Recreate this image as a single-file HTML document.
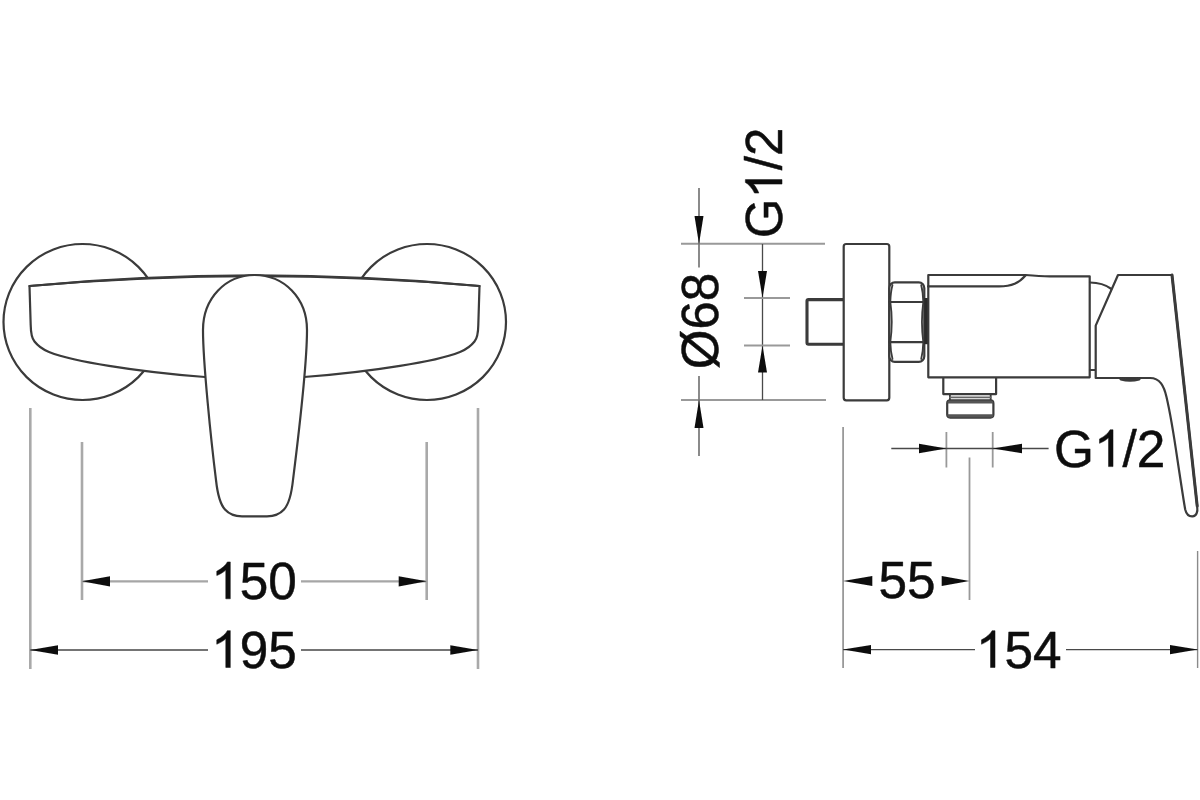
<!DOCTYPE html>
<html><head><meta charset="utf-8">
<style>
html,body{margin:0;padding:0;background:#fff;}
body{width:1200px;height:800px;overflow:hidden;}
svg{display:block;position:absolute;left:0;top:0;}
text{font-family:"Liberation Sans",sans-serif;fill:#111;stroke:#111;stroke-width:0.5px;stroke-linejoin:round;}
.g{fill:#111;stroke:#111;stroke-width:19.961013645224174;stroke-linejoin:round;}
.o{fill:none;stroke:#3a3a3a;stroke-width:2.2;stroke-linecap:round;stroke-linejoin:round;}
.of{fill:#fff;stroke:#3a3a3a;stroke-width:2.2;stroke-linecap:round;stroke-linejoin:round;}
.t{fill:none;stroke:#999;stroke-width:1.8;}
.tl{fill:none;stroke:#a9a9a9;stroke-width:2.6;}
.dv{fill:none;stroke:#777;stroke-width:1.7;}
.th{fill:none;stroke:#999;stroke-width:2.1;}
.t2{fill:none;stroke:#8a8a8a;stroke-width:1.4;}
.dl{fill:none;stroke:#a6a6a6;stroke-width:2.3;}
.d{fill:none;stroke:#484848;stroke-width:1.3;}
.a{fill:#111;stroke:none;}
</style></head>
<body>
<svg width="1200" height="800" viewBox="0 0 1200 800">
<defs><filter id="bl" x="0" y="0" width="1200" height="800" filterUnits="userSpaceOnUse"><feGaussianBlur stdDeviation="0.6"/></filter></defs>
<rect width="1200" height="800" fill="#fff"/>
<g filter="url(#bl)">

<!-- LEFT VIEW -->
<g id="left">
<ellipse class="o" cx="82.5" cy="322" rx="79" ry="78"/>
<ellipse class="o" cx="427" cy="322" rx="79" ry="78"/>
<!-- body -->
<path class="of" d="M29.5,286 Q254.5,266.5 479.5,286 L478.3,325 C478.2,332 477.5,338 474.5,341.5 C471,346 466,349.5 460,352 C446,357.5 420,362.8 400,365.8 C368,371 336,374.5 304,377 L205,377 C173,374.5 141,371 109,365.8 C89,362.8 63,357.5 49,352 C43,349.5 38,346 34.5,341.5 C31.5,338 30.8,332 30.7,325 Z"/>
<path class="o" style="stroke-width:2.2" d="M29.5,286 Q254.5,264.8 479.5,286"/>
<!-- handle -->
<path class="of" d="M254.5,275 C226,275 203,298 203,330 C203,362 211,440 216,480 C217.5,494 220,504 225,509.5 C229,514 234,516.2 242,516.3 L267,516.3 C275,516.2 280,514 284,509.5 C289,504 291.5,494 293,480 C298,440 307,362 307,330 C307,298 284,275 254.5,275 Z"/>
<!-- extension lines -->
<path class="tl" d="M30.3,408 V669 M478,408 V669 M82,442 V600 M426.7,442 V600"/>
<!-- dim 150 -->
<path class="dl" d="M82,581.3 H208 M301,581.3 H426.7"/>
<path class="a" d="M82,581.3 L110,576.2 L110,586.4 Z M426.7,581.3 L398.7,576.2 L398.7,586.4 Z"/>
<g transform="translate(254,598.8)"><path class="g" transform="translate(-42.80,0) scale(0.02505,-0.02505)" d="M763,0 H583 V1147 Q518,1085 412.5,1023 Q307,961 223,930 V1104 Q374,1175 487,1276 Q600,1377 647,1472 H763 Z"/><text x="-14.27" y="0" font-size="51.3">5</text><text x="14.27" y="0" font-size="51.3">0</text></g>
<!-- dim 195 -->
<path class="d" d="M30.3,650 H208 M301,650 H478"/>
<path class="a" d="M30.3,650 L58,645.3 L58,654.7 Z M478,650 L450.3,645.3 L450.3,654.7 Z"/>
<g transform="translate(254,667.5)"><path class="g" transform="translate(-42.80,0) scale(0.02505,-0.02505)" d="M763,0 H583 V1147 Q518,1085 412.5,1023 Q307,961 223,930 V1104 Q374,1175 487,1276 Q600,1377 647,1472 H763 Z"/><text x="-14.27" y="0" font-size="51.3">9</text><text x="14.27" y="0" font-size="51.3">5</text></g>
</g>

<!-- RIGHT VIEW -->
<g id="right">
<!-- ext lines -->
<path class="th" d="M681,243.8 H825 M681,400 H826"/>
<!-- dia 68 dim -->
<path class="dv" d="M699,188 V267.5 M699,376 V456"/>
<path class="a" d="M699,244 L694.5,216 L703.5,216 Z M699,400 L694.5,428 L703.5,428 Z"/>
<g transform="translate(718,321) rotate(-90)"><text x="-48.20" y="0" font-size="51">Ø</text><text x="-8.53" y="0" font-size="51">6</text><text x="19.83" y="0" font-size="51">8</text></g>
<!-- G1/2 vertical dim -->
<path class="d" d="M762.5,244 V400"/>
<path class="t" d="M744,298 H790 M744,345.5 H790"/>
<path class="a" d="M762.5,298 L758,271 L767,271 Z M762.5,345.5 L758,372.5 L767,372.5 Z"/>
<g transform="translate(782,183) rotate(-90)"><text x="-55.28" y="0" font-size="51">G</text><path class="g" transform="translate(-15.61,0) scale(0.02490,-0.02490)" d="M763,0 H583 V1147 Q518,1085 412.5,1023 Q307,961 223,930 V1104 Q374,1175 487,1276 Q600,1377 647,1472 H763 Z"/><text x="12.75" y="0" font-size="51">/</text><text x="26.92" y="0" font-size="51">2</text></g>

<!-- stub -->
<path class="o" style="stroke-width:3.1" d="M844,299.6 H808.5 Q807,299.6 807,301 V342.8 Q807,344.2 808.5,344.2 H844"/>
<!-- flange -->
<rect class="of" x="843.7" y="244" width="45.6" height="156.3" rx="2.5"/>
<!-- nut -->
<rect class="of" x="889.3" y="282.4" width="35" height="79.4" rx="5.5"/>
<path class="o" d="M889.3,302 H924.3 M889.3,342.2 H924.3"/>
<path class="o" style="stroke-width:1.8" d="M890.3,302 Q893.2,322 890.3,342.2 M923.3,302 Q920.6,322 923.3,342.2 M890.3,302 Q890.6,292 892.5,285 M923.3,302 Q923,292 921.2,285 M890.3,342.2 Q890.6,352 892.5,359 M923.3,342.2 Q923,352 921.2,359"/>
<rect x="924.3" y="298" width="4.4" height="46.2" fill="#2a2a2a"/>
<!-- outlet -->
<path class="of" d="M943.3,377 V394.1 H996.1 V377"/>
<path class="o" style="stroke-width:1.8" d="M949.9,394.1 V400 M990.7,394.1 V400"/>
<path class="o" style="stroke:#666;stroke-width:1.6" d="M950,397.4 H990.6"/>
<rect class="of" x="947.2" y="400.4" width="46.2" height="17.2" rx="3"/>
<path d="M947.4,403.4 V402.8 Q947.4,400.4 950,400.4 H990.6 Q993.2,400.4 993.2,402.8 V403.4 Z" fill="#555"/>
<path d="M947.4,414.2 V415.2 Q947.4,417.6 950,417.6 H990.6 Q993.2,417.6 993.2,415.2 V414.2 Z" fill="#555"/>
<!-- body -->
<path class="of" d="M928.3,275 H1025.5 Q1040,276.3 1050,276.3 H1089.7 V377.3 H928.3 Z"/>
<path class="o" d="M928,286.4 H999 C1012,286.4 1019,283 1025.5,275.5"/>
<!-- handle -->
<path class="o" d="M1090,282.5 C1098,282.5 1106,285 1111.5,289"/>
<path class="o" d="M1090,370 H1095.7"/>
<path class="of" d="M1118,275 H1172 L1197.2,506 C1198,512.5 1196.3,516.2 1192.5,516.4 C1188.5,516.6 1186.3,514 1185.2,509.5 C1183.5,500 1180.5,480 1177.5,460 C1174,436 1170,412 1166.5,397 C1164,386 1160,378 1150,378 H1095.7 V325.6 Z"/>
<path class="o" style="stroke-width:3" d="M1172,275 L1197.2,506"/>
<path class="o" style="stroke-width:3.2" d="M1121,379 Q1130,381.5 1139,379"/>

<!-- bottom dims -->
<path class="t" d="M843.1,427 V668 M969.5,457.5 V600 M946.4,432 V467.5 M992.7,432 V467.5"/>
<path class="t2" d="M1197.6,551 V668"/>
<path class="d" d="M891.3,448.5 H1048.6"/>
<path class="a" d="M946.4,448.5 L919,443.8 L919,453.2 Z M992.7,448.5 L1022,443.8 L1022,453.2 Z"/>
<g transform="translate(1054,466.6)"><text x="0.00" y="0" font-size="51.3">G</text><path class="g" transform="translate(39.90,0) scale(0.02505,-0.02505)" d="M763,0 H583 V1147 Q518,1085 412.5,1023 Q307,961 223,930 V1104 Q374,1175 487,1276 Q600,1377 647,1472 H763 Z"/><text x="68.43" y="0" font-size="51.3">/</text><text x="82.69" y="0" font-size="51.3">2</text></g>
<!-- 55 -->
<path class="a" d="M843.1,581 L872.3,576 L872.3,586 Z M969.5,581 L941.7,576 L941.7,586 Z"/>
<g transform="translate(907,598.3)"><text x="-28.53" y="0" font-size="51.3">5</text><text x="0.00" y="0" font-size="51.3">5</text></g>
<!-- 154 -->
<path class="d" d="M843.1,649.6 H975 M1066,649.6 H1197.6"/>
<path class="a" d="M843.1,649.6 L871,644.9 L871,654.3 Z M1197.6,649.6 L1170,644.9 L1170,654.3 Z"/>
<g transform="translate(1018.7,667.5)"><path class="g" transform="translate(-42.80,0) scale(0.02505,-0.02505)" d="M763,0 H583 V1147 Q518,1085 412.5,1023 Q307,961 223,930 V1104 Q374,1175 487,1276 Q600,1377 647,1472 H763 Z"/><text x="-14.27" y="0" font-size="51.3">5</text><text x="14.27" y="0" font-size="51.3">4</text></g>
</g>
</g>
</svg>
</body></html>
